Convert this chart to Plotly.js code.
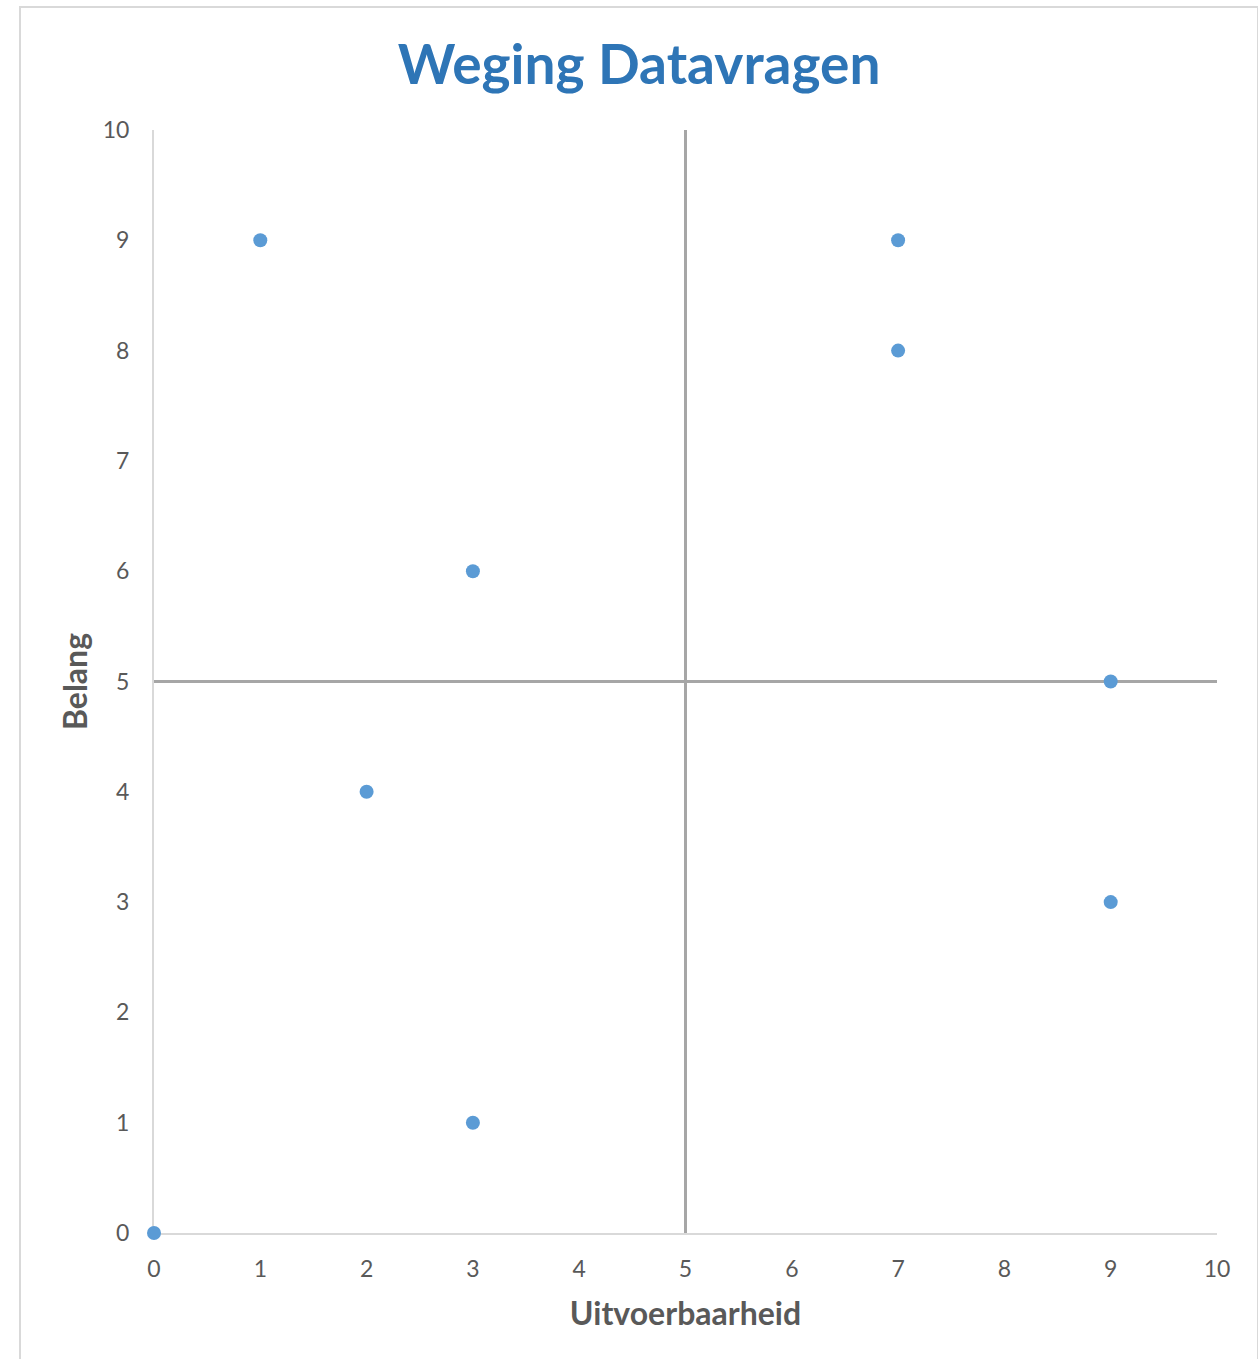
<!DOCTYPE html>
<html>
<head>
<meta charset="utf-8">
<script src="https://cdn.plot.ly/plotly-3.0.1.min.js"></script>
<style>
  html, body { margin: 0; padding: 0; background: #ffffff; }
  #wrap { position: relative; width: 1258px; height: 1359px; }
  #chart { width: 1258px; height: 1359px; }
  #frame { position: absolute; left: 19px; top: 6px; width: 1240px; height: 1360px;
           border: 2px solid #d9d9d9; box-sizing: border-box; pointer-events: none; }
</style>
</head>
<body>
<div id="wrap">
  <div id="chart"></div>
  <div id="frame"></div>
</div>
<script>
// Data: Uitvoerbaarheid (x) vs Belang (y)
const uitvoerbaarheid = [0, 1, 3, 2, 3, 7, 7, 9, 9];
const belang          = [0, 9, 6, 4, 1, 9, 8, 5, 3];

// Quadrant divider values
const quadrantX = 5;
const quadrantY = 5;
const axisRange = [0, 10];
const tickValues = [0, 1, 2, 3, 4, 5, 6, 7, 8, 9, 10];

const gray = '#595959';
const fontFam = 'Lato, "Open Sans", sans-serif';

const traces = [
  {
    x: [quadrantX, quadrantX], y: axisRange,
    mode: 'lines', line: { color: '#a6a6a6', width: 3 },
    hoverinfo: 'skip', showlegend: false
  },
  {
    x: axisRange, y: [quadrantY, quadrantY],
    mode: 'lines', line: { color: '#a6a6a6', width: 3 },
    hoverinfo: 'skip', showlegend: false
  },
  {
    x: uitvoerbaarheid, y: belang,
    mode: 'markers', type: 'scatter',
    marker: { color: '#5b9bd5', size: 14 },
    cliponaxis: false, showlegend: false
  }
];

const layout = {
  width: 1258, height: 1359,
  margin: { l: 154, r: 41, t: 130, b: 126 },
  paper_bgcolor: '#ffffff', plot_bgcolor: '#ffffff',
  showlegend: false,
  title: {
    text: '<b>Weging Datavragen</b>',
    font: { family: fontFam, size: 55, color: '#2e75b6' },
    xref: 'container', x: 0.508, xanchor: 'center',
    yref: 'container', y: 0.952, yanchor: 'middle'
  },
  xaxis: {
    range: axisRange, tickvals: tickValues,
    showgrid: false, zeroline: false,
    showline: true, linecolor: '#d9d9d9', linewidth: 2, layer: 'below traces',
    ticks: '', ticklabelstandoff: 14,
    tickfont: { family: fontFam, size: 23, color: gray },
    title: { text: '<b>Uitvoerbaarheid</b>', standoff: 22,
             font: { family: fontFam, size: 32, color: gray } }
  },
  yaxis: {
    range: axisRange, tickvals: tickValues,
    showgrid: false, zeroline: false,
    showline: true, linecolor: '#d9d9d9', linewidth: 2, layer: 'below traces',
    ticks: '', ticklabelstandoff: 18,
    tickfont: { family: fontFam, size: 23, color: gray },
    title: { text: '<b>Belang</b>', standoff: 6,
             font: { family: fontFam, size: 32, color: gray } }
  }
};

Plotly.newPlot('chart', traces, layout, { displayModeBar: false, staticPlot: true });
</script>
</body>
</html>
